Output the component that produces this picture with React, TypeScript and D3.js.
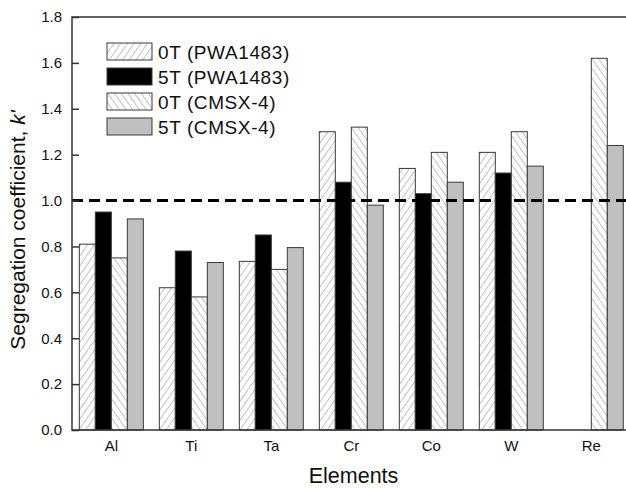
import * as d3 from "d3";
import { useEffect, useRef } from "react";

const elements = ["Al", "Ti", "Ta", "Cr", "Co", "W", "Re"];
const seriesNames = ["0T (PWA1483)", "5T (PWA1483)", "0T (CMSX-4)", "5T (CMSX-4)"];
const pwa0T = [0.81, 0.62, 0.735, 1.3, 1.14, 1.21, null];
const pwa5T = [0.95, 0.78, 0.85, 1.08, 1.03, 1.12, null];
const cmsx0T = [0.75, 0.58, 0.7, 1.32, 1.21, 1.3, 1.62];
const cmsx5T = [0.92, 0.73, 0.795, 0.98, 1.08, 1.15, 1.24];
const yTicks = [0.0, 0.2, 0.4, 0.6, 0.8, 1.0, 1.2, 1.4, 1.6, 1.8];
const refLine = 1.0;

const FONT = "'Liberation Sans', Arial, sans-serif";

function App() {
    const ref = useRef<SVGSVGElement>(null);

    useEffect(() => {
        const svg = d3.select(ref.current);
        svg.selectAll("*").remove();

        const width = 626;
        const height = 489;
        const margin = { top: 17, right: -9, bottom: 59, left: 72 };
        const plotW = width - margin.left - margin.right;
        const plotH = height - margin.top - margin.bottom;

        svg.attr("width", width).attr("height", height);

        const fills = ["url(#hatchFwd)", "#000", "url(#hatchBack)", "#c0c0c0"];
        const series = [pwa0T, pwa5T, cmsx0T, cmsx5T];

        // hatch patterns
        const defs = svg.append("defs");
        const mkHatch = (id: string, angle: number) => {
            const p = defs
                .append("pattern")
                .attr("id", id)
                .attr("patternUnits", "userSpaceOnUse")
                .attr("width", 5.5)
                .attr("height", 5.5)
                .attr("patternTransform", `rotate(${angle})`);
            p.append("rect").attr("width", 5.5).attr("height", 5.5).attr("fill", "#fff");
            p.append("line")
                .attr("x1", 0).attr("y1", 0).attr("x2", 0).attr("y2", 5.5)
                .attr("stroke", "#8a8a8a")
                .attr("stroke-width", 1);
        };
        mkHatch("hatchFwd", 35);
        mkHatch("hatchBack", -35);

        const g = svg.append("g").attr("transform", `translate(${margin.left},${margin.top})`);

        const x = d3
            .scaleBand()
            .domain(elements)
            .range([0, plotW])
            .paddingInner(0.2)
            .paddingOuter(0.119)
            .align(0.385);

        const xs = d3.scaleBand().domain(seriesNames).range([0, x.bandwidth()]);

        const y = d3.scaleLinear().domain([0, 1.8]).range([plotH, 0]);

        // bars
        series.forEach((vals, si) => {
            const rows = elements
                .map((el, i) => ({ el, v: vals[i] }))
                .filter(d => d.v != null) as { el: string; v: number }[];
            g.selectAll(`.bar-${si}`)
                .data(rows)
                .enter()
                .append("rect")
                .attr("class", `bar-${si}`)
                .attr("x", d => (x(d.el) || 0) + (xs(seriesNames[si]) || 0))
                .attr("y", d => y(d.v))
                .attr("width", xs.bandwidth())
                .attr("height", d => plotH - y(d.v))
                .attr("fill", fills[si])
                .attr("stroke", "#3a3a3a")
                .attr("stroke-width", 1);
        });

        // dashed reference line
        g.append("line")
            .attr("x1", 0)
            .attr("x2", plotW)
            .attr("y1", y(refLine))
            .attr("y2", y(refLine))
            .attr("stroke", "#000")
            .attr("stroke-width", 3)
            .attr("stroke-dasharray", "11,6");

        // frame
        g.append("rect")
            .attr("width", plotW)
            .attr("height", plotH)
            .attr("fill", "none")
            .attr("stroke", "#333")
            .attr("stroke-width", 1.5);

        // y axis (inward ticks)
        const yAxis = g
            .append("g")
            .call(d3.axisLeft(y).tickValues(yTicks).tickSize(-7).tickPadding(10).tickFormat(d3.format(".1f")));
        yAxis.select(".domain").remove();
        yAxis.selectAll("line").attr("stroke", "#333").attr("stroke-width", 1.5);
        yAxis.selectAll("text").style("font-family", FONT).style("font-size", "15px").attr("fill", "#111");

        // x axis labels
        const xAxis = g
            .append("g")
            .attr("transform", `translate(0,${plotH})`)
            .call(d3.axisBottom(x).tickSize(0).tickPadding(10));
        xAxis.select(".domain").remove();
        xAxis.selectAll("text").style("font-family", FONT).style("font-size", "15px").attr("fill", "#111");

        // axis titles
        svg.append("text")
            .attr("x", margin.left + plotW / 2)
            .attr("y", 483)
            .attr("text-anchor", "middle")
            .style("font-family", FONT)
            .style("font-size", "21.5px")
            .attr("fill", "#111")
            .text("Elements");

        const yt = svg
            .append("text")
            .attr("transform", "rotate(-90)")
            .attr("x", -230)
            .attr("y", 25)
            .attr("text-anchor", "middle")
            .style("font-family", FONT)
            .style("font-size", "21px")
            .attr("fill", "#111");
        yt.append("tspan").text("Segregation coefficient, ");
        yt.append("tspan").style("font-style", "italic").text("k'");

        // legend
        const legend = svg.append("g").attr("transform", "translate(107,43)");
        seriesNames.forEach((name, i) => {
            const row = legend.append("g").attr("transform", `translate(0,${i * 25})`);
            row.append("rect")
                .attr("width", 45)
                .attr("height", 17)
                .attr("fill", fills[i])
                .attr("stroke", "#3a3a3a")
                .attr("stroke-width", 1);
            row.append("text")
                .attr("x", 51)
                .attr("y", 16)
                .style("font-family", FONT)
                .style("font-size", "19px")
                .style("letter-spacing", "0.6px")
                .attr("fill", "#111")
                .text(name);
        });
    }, []);

    return (
        <div style={{ position: "absolute", left: 0, top: 0 }}>
            <svg ref={ref} style={{ display: "block" }} />
        </div>
    );
}

export default App;
